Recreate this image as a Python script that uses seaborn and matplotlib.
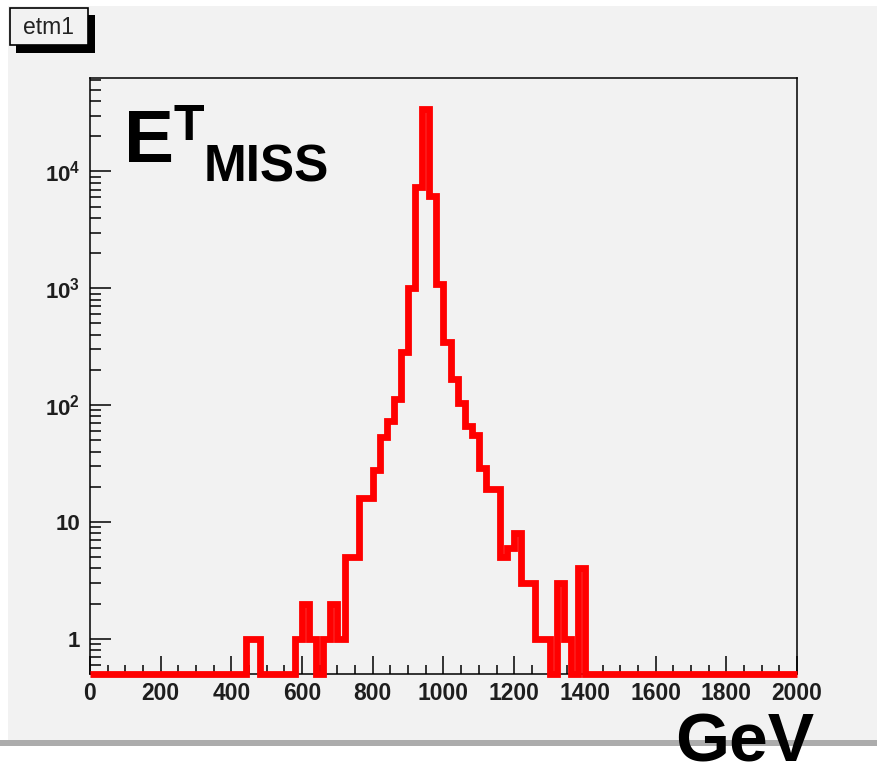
import numpy as np
import pandas as pd
import matplotlib
matplotlib.use("Agg")
import matplotlib.pyplot as plt
import seaborn as sns
from matplotlib.patches import Rectangle
from matplotlib.ticker import MultipleLocator, LogLocator, FuncFormatter, NullFormatter

# ---------------- data ----------------
bin_width = 20          # GeV
x_min, x_max = 0, 2000  # GeV
# entries per 20 GeV bin, bin lower edges 0, 20, ..., 1980
counts = [
    0, 0, 0, 0, 0, 0, 0, 0, 0, 0,          # 0 - 200
    0, 0, 0, 0, 0, 0, 0, 0, 0, 0,          # 200 - 400
    0, 0, 1, 1, 0, 0, 0, 0, 0, 1,          # 400 - 600
    2, 1, 0, 1, 2, 1, 5, 5, 16, 16,        # 600 - 800
    28, 53, 73, 112, 283, 1000, 7400, 34000, 6100, 1080,   # 800 - 1000
    345, 166, 104, 66, 56, 29, 19, 19, 5, 6,               # 1000 - 1200
    8, 3, 3, 1, 1, 0, 3, 1, 0, 4,          # 1200 - 1400
    0, 0, 0, 0, 0, 0, 0, 0, 0, 0,          # 1400 - 1600
    0, 0, 0, 0, 0, 0, 0, 0, 0, 0,          # 1600 - 1800
    0, 0, 0, 0, 0, 0, 0, 0, 0, 0,          # 1800 - 2000
]
y_min, y_max = 0.5, 6.3e4
x_tick_labels = ["0", "200", "400", "600", "800", "1000", "1200", "1400", "1600", "1800", "2000"]
title_box = "etm1"
x_unit = "GeV"

# ---------------- figure ----------------
W, H = 878, 768
sns.set_theme(style="ticks")
plt.rcParams["font.family"] = ["Liberation Sans", "DejaVu Sans"]
plt.rcParams["mathtext.fontset"] = "custom"
plt.rcParams["mathtext.bf"] = "Liberation Sans:bold"
plt.rcParams["mathtext.rm"] = "Liberation Sans:bold"
plt.rcParams["mathtext.default"] = "bf"

fig = plt.figure(figsize=(W / 100, H / 100), dpi=100, facecolor="white")

def fx(px):
    return px / W

def fy(py):
    return 1 - py / H

pad_col = "#f2f2f2"
# pad background and bottom border
fig.add_artist(Rectangle((fx(8), fy(740)), fx(W) - fx(8), fy(6) - fy(740),
                         transform=fig.transFigure, facecolor=pad_col, edgecolor="none", zorder=-10))
fig.add_artist(Rectangle((fx(0), fy(746)), 1, fy(740) - fy(746),
                         transform=fig.transFigure, facecolor="#acacac", edgecolor="none", zorder=-9))

# axes frame
L, R, T, B = 90, 797, 78, 674
ax = fig.add_axes([fx(L), fy(B), fx(R) - fx(L), fy(T) - fy(B)])
ax.set_facecolor(pad_col)

edges = np.arange(x_min, x_max + bin_width, bin_width)
c = np.array(counts, dtype=float)
yv = np.where(c > 0, c, y_min)
df = pd.DataFrame({"E": edges, "N": np.append(yv, yv[-1])})
sns.lineplot(data=df, x="E", y="N", drawstyle="steps-post", color="#ff0000",
             linewidth=4.9, estimator=None, sort=False, legend=False, ax=ax)
ln = ax.lines[-1]
ln.set_clip_on(False)
ln.set_solid_joinstyle("miter")
ln.set_solid_capstyle("butt")
ln.set_zorder(5)

ax.set_yscale("log")
ax.set_xlim(x_min, x_max)
ax.set_ylim(y_min, y_max)
ax.set_xlabel("")
ax.set_ylabel("")

ax.xaxis.set_minor_locator(MultipleLocator(50))
ax.set_xticks(np.arange(0, 2001, 200))
ax.set_xticklabels(x_tick_labels)

ax.yaxis.set_major_locator(LogLocator(base=10, numticks=12))
ax.yaxis.set_minor_locator(LogLocator(base=10, subs=np.arange(2, 10), numticks=12))
ax.yaxis.set_minor_formatter(NullFormatter())

def yfmt(v, pos):
    e = int(round(np.log10(v)))
    if e == 0:
        return "1"
    if e == 1:
        return "10"
    return r"$10^{%d}$" % e

ax.yaxis.set_major_formatter(FuncFormatter(yfmt))

for s in ax.spines.values():
    s.set_color("black")
    s.set_linewidth(1.1)
    s.set_visible(True)

lab_col = "#1e1e1e"
ax.tick_params(axis="x", which="major", direction="in", length=12.9, width=1.1,
               top=False, bottom=True, pad=5.5, labelsize=16.5, labelcolor=lab_col, color="black")
ax.tick_params(axis="x", which="minor", direction="in", length=6.5, width=1.1,
               top=False, bottom=True, color="black")
ax.tick_params(axis="y", which="major", direction="in", length=15.3, width=1.1,
               left=True, right=False, pad=7.0, labelsize=16, labelcolor=lab_col, color="black")
ax.tick_params(axis="y", which="minor", direction="in", length=8.0, width=1.1,
               left=True, right=False, color="black")
for lbl in ax.get_xticklabels() + ax.get_yticklabels():
    lbl.set_fontweight("bold")

# big labels
fig.text(fx(124), fy(162), "E", fontsize=54, fontweight="bold", color="black",
         ha="left", va="baseline")
fig.text(fx(174), fy(140), "T", fontsize=36, fontweight="bold", color="black",
         ha="left", va="baseline")
fig.text(fx(204), fy(181), "MISS", fontsize=37, fontweight="bold", color="black",
         ha="left", va="baseline")
fig.text(fx(814), fy(761), x_unit, fontsize=50, fontweight="bold", color="black",
         ha="right", va="baseline", zorder=10)

# title box with shadow
fig.add_artist(Rectangle((fx(16), fy(53)), fx(95) - fx(16), fy(15) - fy(53),
                         transform=fig.transFigure, facecolor="black", edgecolor="none", zorder=2))
fig.add_artist(Rectangle((fx(10), fy(45)), fx(88) - fx(10), fy(8) - fy(45),
                         transform=fig.transFigure, facecolor=pad_col, edgecolor="black",
                         linewidth=1.2, zorder=3))
fig.text(fx(49), fy(27), title_box, fontsize=16.5, color="#222222",
         ha="center", va="center", zorder=4)

fig.savefig("out.png", dpi=100, facecolor="white")
